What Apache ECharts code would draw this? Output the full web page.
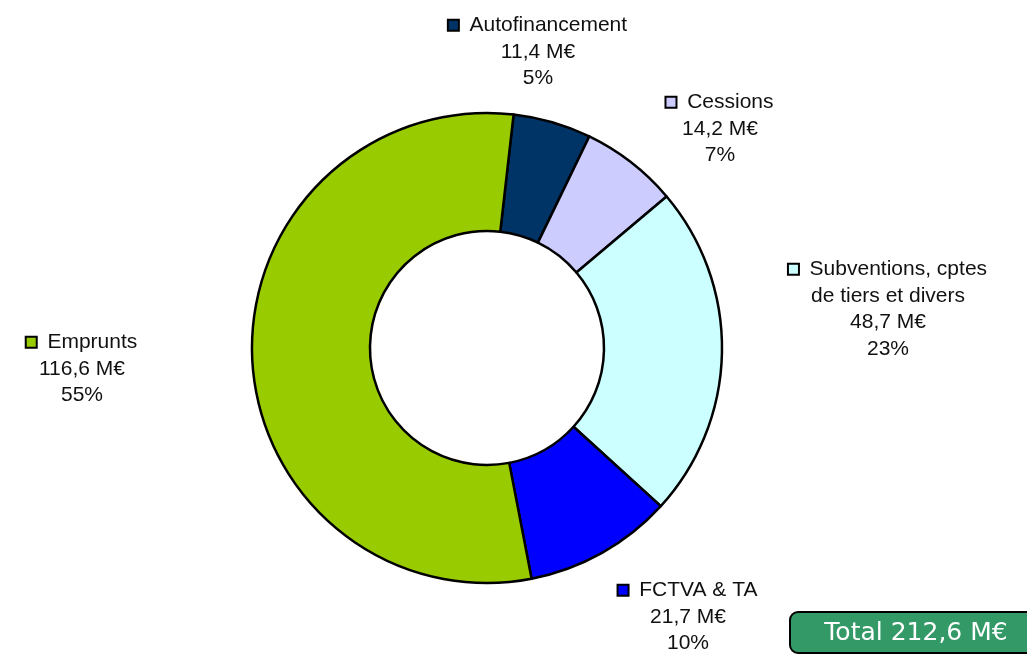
<!DOCTYPE html>
<html>
<head>
<meta charset="utf-8">
<title>Financement</title>
<script src="https://cdn.jsdelivr.net/npm/echarts@6/dist/echarts.min.js"></script>
<style>
	html, body { margin: 0; padding: 0; background: #fff; }
	#main { width: 1027px; height: 655px; }
</style>
</head>
<body>
<div id="main"></div>
<script>
var names = ['Autofinancement', 'Cessions', 'Subventions, cptes\nde tiers et divers', 'FCTVA & TA', 'Emprunts'];
var values = [11.4, 14.2, 48.7, 21.7, 116.6];
var colors = ['#003366', '#ccccff', '#ccffff', '#0000ff', '#99cc00'];
// where each label block sits (center x, top y), same order as names
var labelPos = [[538, 12], [720, 89], [888, 256], [688, 577], [82, 329]];

var total = 0;
values.forEach(function(v){ total += v; });

function fmt(v){
	return v.toFixed(1).replace('.', ',');
}

var rich = { v: { fontSize: 21, lineHeight: 26.5, color: '#111', fontFamily: 'Liberation Sans' } };
colors.forEach(function(c, i){
	rich['m' + i] = { width: 9, height: 9, backgroundColor: c, borderColor: '#000', borderWidth: 2 };
});

var seriesData = names.map(function(n, i){
	return { name: n, value: values[i], itemStyle: { color: colors[i] } };
});

var myChart = echarts.init(document.getElementById('main'));
myChart.setOption({
	animation: false,
	backgroundColor: '#fff',
	series: [{
		type: 'pie',
		center: [487, 348],
		radius: [117, 235],
		startAngle: 83.5,
		clockwise: true,
		data: seriesData,
		itemStyle: { borderColor: '#000', borderWidth: 2.5 },
		labelLine: { show: false },
		label: {
			show: true,
			position: 'outside',
			align: 'center',
			fontFamily: 'Liberation Sans',
			fontSize: 21,
			lineHeight: 26.5,
			color: '#111',
			formatter: function(p){
				var lines = p.name.split('\n');
				var s = '{m' + p.dataIndex + '|}  {v|' + lines[0] + '}';
				for (var k = 1; k < lines.length; k++) {
					s += '\n{v|' + lines[k] + '}';
				}
				s += '\n{v|' + fmt(p.value) + ' M€}';
				s += '\n{v|' + Math.round(p.percent) + '%}';
				return s;
			},
			rich: rich
		},
		labelLayout: function(params){
			var pos = labelPos[params.dataIndex];
			return { x: pos[0], y: pos[1], align: 'center', verticalAlign: 'top' };
		}
	}],
	graphic: [{
		type: 'group',
		left: 789,
		top: 611,
		children: [{
			type: 'rect',
			shape: { x: 0, y: 0, width: 250, height: 41, r: 8 },
			style: { fill: '#339966', stroke: '#000', lineWidth: 2 }
		}, {
			type: 'text',
			x: 126,
			y: 21,
			style: {
				text: 'Total ' + fmt(total) + ' M€',
				fill: '#fff',
				font: '25px "DejaVu Sans"',
				align: 'center',
				verticalAlign: 'middle'
			}
		}]
	}]
});
</script>
</body>
</html>
